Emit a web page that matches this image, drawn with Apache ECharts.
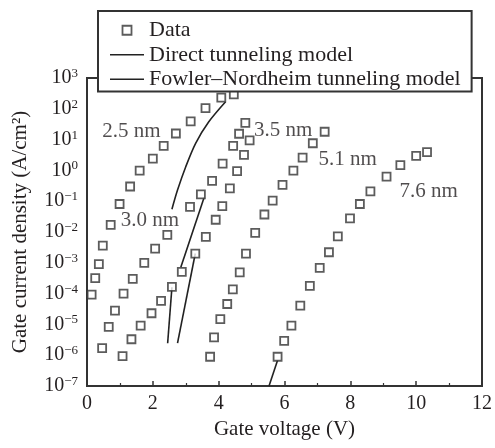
<!DOCTYPE html>
<html>
<head>
<meta charset="utf-8">
<script src="https://cdn.jsdelivr.net/npm/echarts@6/dist/echarts.min.js"></script>
<style>
html, body { margin: 0; padding: 0; background: #fff; }
#chart { width: 495px; height: 448px; }
</style>
</head>
<body>
<div id="chart"></div>
<script>
// gate voltage (V) and current density (A/cm2), one pair of arrays per oxide thickness
var v_25 = [0.14, 0.25, 0.36, 0.48, 0.72, 0.99, 1.31, 1.60, 2.00, 2.33, 2.70, 3.15, 3.60, 4.08, 4.46];
var j_25 = [9.3e-5, 3.2e-4, 9.1e-4, 3.6e-3, 1.7e-2, 8.1e-2, 0.30, 0.98, 2.4, 6.3, 15.8, 39, 105, 229, 295];

var v_30 = [0.46, 0.66, 0.85, 1.11, 1.39, 1.74, 2.07, 2.44, 3.13, 3.46, 3.80, 4.12, 4.44, 4.62, 4.81];
var j_30 = [1.7e-6, 8.3e-6, 2.8e-5, 1.0e-4, 3.0e-4, 1.0e-3, 2.9e-3, 8.1e-3, 6.5e-2, 0.166, 0.46, 1.66, 6.3, 15.5, 35];

var v_35 = [1.08, 1.35, 1.63, 1.96, 2.25, 2.58, 2.88, 3.29, 3.61, 3.91, 4.11, 4.34, 4.56, 4.77, 4.94];
var j_35 = [9.3e-7, 3.3e-6, 9.1e-6, 2.3e-5, 5.8e-5, 1.66e-4, 5.1e-4, 2.0e-3, 6.9e-3, 2.5e-2, 6.9e-2, 0.26, 0.95, 3.2, 9.5];

var v_51 = [3.74, 3.86, 4.05, 4.26, 4.43, 4.64, 4.83, 5.11, 5.39, 5.64, 5.94, 6.27, 6.55, 6.86, 7.22];
var j_51 = [8.9e-7, 3.8e-6, 1.48e-5, 4.6e-5, 1.38e-4, 4.9e-4, 2.0e-3, 9.3e-3, 3.7e-2, 0.105, 0.34, 0.98, 2.6, 7.6, 18];

var v_76 = [5.79, 5.99, 6.21, 6.48, 6.77, 7.07, 7.35, 7.62, 7.99, 8.29, 8.61, 9.10, 9.52, 10.0, 10.33];
var j_76 = [8.9e-7, 2.9e-6, 9.1e-6, 4.1e-5, 1.78e-4, 6.8e-4, 2.2e-3, 7.2e-3, 2.75e-2, 8.1e-2, 0.21, 0.63, 1.48, 2.95, 3.9];

// model curves
var dt_25_v = [2.58, 2.75, 3.00, 3.30, 3.70, 4.21];
var dt_25_j = [0.055, 0.23, 1.32, 7.6, 38, 170];
var dt_30_v = [2.85, 3.56];
var dt_30_j = [7.2e-4, 0.135];
var dt_35_v = [2.45, 2.58];
var dt_35_j = [2.45e-6, 1.6e-4];
var fn_35_v = [2.75, 3.29];
var fn_35_j = [2.45e-6, 2.0e-3];
var fn_76_v = [5.53, 5.79];
var fn_76_j = [1e-7, 6.9e-7];

// thickness tags and where they sit (data units)
var tag_names = ['2.5 nm', '3.0 nm', '3.5 nm', '5.1 nm', '7.6 nm'];
var tag_v = [1.35, 1.91, 5.96, 7.92, 10.38];
var tag_j = [18, 0.023, 20.5, 2.2, 0.20];

var FONT = '"Liberation Serif", "Times New Roman", serif';
var INK = '#231f20';
var EDGE = '#333';

function pairs(xs, ys) {
    var out = [];
    for (var i = 0; i < xs.length; i++) {
        out.push([xs[i], ys[i]]);
    }
    return out;
}

function dataSeries(xs, ys) {
    return {
        name: 'Data',
        type: 'scatter',
        symbol: 'rect',
        symbolSize: 8,
        z: 3,
        itemStyle: {color: '#fff', borderColor: EDGE, borderWidth: 1.8},
        data: pairs(xs, ys)
    };
}

function modelSeries(name, xs, ys, smooth) {
    return {
        name: name,
        type: 'line',
        symbol: 'none',
        showSymbol: false,
        smooth: smooth || false,
        z: 2,
        itemStyle: {color: '#222'},
        lineStyle: {color: '#222', width: 1.6},
        data: pairs(xs, ys)
    };
}

var tags = [];
for (var i = 0; i < tag_names.length; i++) {
    tags.push({name: tag_names[i], value: [tag_v[i], tag_j[i]]});
}

// legend icons: hollow square, and a plain stroke for the models
var squareIcon = 'path://M0 0H10V10H0Z';
var strokeIcon = 'path://M0 0H34V1.6H0Z';

var chart = echarts.init(document.getElementById('chart'), null, {renderer: 'canvas'});

var option = {
    animation: false,
    grid: {
        left: 87, top: 78, width: 398, height: 308,
        show: true, borderColor: EDGE, borderWidth: 2
    },
    legend: {
        left: 98, top: 11,
        orient: 'vertical',
        padding: [7, 11, 0, 12],
        itemGap: 0,
        itemWidth: 34,
        itemHeight: 9,
        symbolKeepAspect: true,
        backgroundColor: '#fff',
        borderColor: EDGE,
        borderWidth: 2,
        selectedMode: false,
        textStyle: {fontFamily: FONT, fontSize: 22, color: INK, lineHeight: 24.5},
        data: [
            {name: 'Data', icon: squareIcon,
                itemStyle: {color: '#fff', borderColor: EDGE, borderWidth: 1.8}},
            {name: 'Direct tunneling model', icon: strokeIcon,
                itemStyle: {color: '#222', borderWidth: 0}},
            {name: 'Fowler\u2013Nordheim tunneling model', icon: strokeIcon,
                itemStyle: {color: '#222', borderWidth: 0}}
        ]
    },
    xAxis: {
        type: 'value',
        min: 0, max: 12, interval: 2,
        axisLine: {show: true, lineStyle: {color: EDGE, width: 2}},
        axisTick: {inside: true, length: 5, lineStyle: {color: EDGE, width: 1.5}},
        minorTick: {show: true, splitNumber: 2, length: 3, lineStyle: {color: EDGE, width: 1.2}},
        splitLine: {show: false},
        axisLabel: {fontFamily: FONT, fontSize: 20, color: INK, margin: 8},
        name: 'Gate voltage (V)',
        nameLocation: 'middle',
        nameGap: 31,
        nameTextStyle: {fontFamily: FONT, fontSize: 21, color: INK}
    },
    yAxis: {
        type: 'log',
        logBase: 10,
        min: 1e-7, max: 1e3,
        interval: 1,
        splitNumber: 10,
        axisLine: {show: true, lineStyle: {color: EDGE, width: 2}},
        axisTick: {show: false},
        splitLine: {show: false},
        axisLabel: {
            margin: 9,
            formatter: function (v) {
                var e = Math.round(Math.log10(v));
                return '{b|10}{s|' + (e < 0 ? '\u2212' + (-e) : e) + '}';
            },
            rich: {
                b: {fontFamily: FONT, fontSize: 20, color: INK, lineHeight: 22},
                s: {fontFamily: FONT, fontSize: 13, color: INK, lineHeight: 13, verticalAlign: 'top'}
            }
        },
        name: 'Gate current density (A/cm\u00b2)',
        nameLocation: 'middle',
        nameGap: 56,
        nameTextStyle: {fontFamily: FONT, fontSize: 21, color: INK}
    },
    series: [
        dataSeries(v_25, j_25),
        dataSeries(v_30, j_30),
        dataSeries(v_35, j_35),
        dataSeries(v_51, j_51),
        dataSeries(v_76, j_76),
        modelSeries('Direct tunneling model', dt_25_v, dt_25_j, 0.3),
        modelSeries('Direct tunneling model', dt_30_v, dt_30_j),
        modelSeries('Direct tunneling model', dt_35_v, dt_35_j),
        modelSeries('Fowler\u2013Nordheim tunneling model', fn_35_v, fn_35_j),
        modelSeries('Fowler\u2013Nordheim tunneling model', fn_76_v, fn_76_j),
        {
            name: 'tags',
            type: 'scatter',
            symbolSize: 1,
            silent: true,
            z: 4,
            itemStyle: {color: 'transparent'},
            label: {
                show: true,
                position: 'inside',
                formatter: '{b}',
                fontFamily: FONT, fontSize: 21, color: INK
            },
            data: tags
        }
    ]
};

chart.setOption(option);
</script>
</body>
</html>
